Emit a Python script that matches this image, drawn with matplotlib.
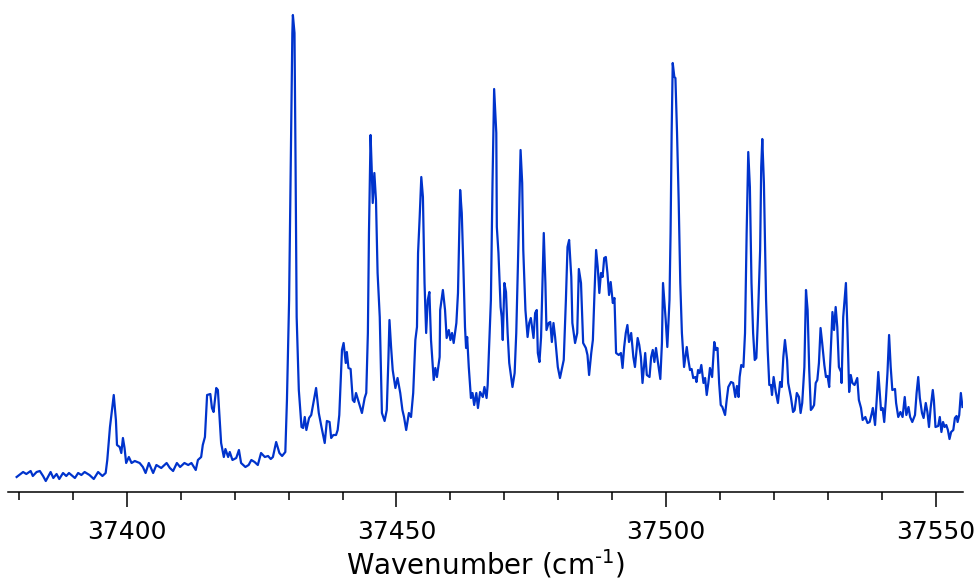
import numpy as np
import matplotlib
matplotlib.use('Agg')
import matplotlib.pyplot as plt
from matplotlib.ticker import MultipleLocator

# wavenumber (cm^-1) and signal (arb. units)
wavenumber = [
    37379.6, 37380.8, 37381.4, 37382.2, 37382.6, 37383.3, 37383.9, 37384.5, 37385.0, 37385.9,
    37386.4, 37387.0, 37387.5, 37388.2, 37388.8, 37389.3, 37390.4, 37391.0, 37391.6, 37392.2,
    37393.1, 37393.9, 37394.7, 37395.5, 37396.1, 37396.4, 37396.9, 37397.2, 37397.6, 37398.0,
    37398.2, 37398.7, 37399.0, 37399.3, 37399.6, 37399.9, 37400.4, 37400.9, 37401.5, 37402.4,
    37403.0, 37403.5, 37404.1, 37404.9, 37405.5, 37406.4, 37407.4, 37408.0, 37408.6, 37409.3,
    37409.9, 37410.7, 37411.4, 37412.0, 37412.8, 37413.2, 37413.8, 37414.1, 37414.5, 37414.9,
    37415.5, 37415.8, 37416.1, 37416.6, 37416.9, 37417.2, 37417.5, 37418.0, 37418.3, 37418.8,
    37419.1, 37419.6, 37420.3, 37420.8, 37421.2, 37422.0, 37422.6, 37423.1, 37423.7, 37424.3,
    37424.9, 37425.6, 37426.2, 37426.7, 37427.1, 37427.7, 37428.3, 37428.8, 37429.4, 37429.7,
    37430.1, 37430.4, 37430.7, 37430.8, 37431.1, 37431.3, 37431.5, 37431.9, 37432.4, 37432.7,
    37433.0, 37433.3, 37433.8, 37434.2, 37434.6, 37435.1, 37435.6, 37436.1, 37436.7, 37437.1,
    37437.6, 37437.9, 37438.3, 37438.8, 37439.1, 37439.4, 37439.9, 37440.2, 37440.6, 37440.8,
    37441.1, 37441.5, 37441.9, 37442.2, 37442.5, 37443.0, 37443.6, 37444.1, 37444.4, 37444.7,
    37444.9, 37445.2, 37445.4, 37445.6, 37445.9, 37446.2, 37446.5, 37446.9, 37447.3, 37447.8,
    37448.2, 37448.5, 37448.7, 37449.0, 37449.3, 37449.8, 37450.2, 37450.7, 37451.1, 37451.4,
    37451.8, 37452.3, 37452.7, 37453.1, 37453.5, 37453.8, 37454.0, 37454.3, 37454.6, 37454.9,
    37455.2, 37455.5, 37455.8, 37456.1, 37456.4, 37456.9, 37457.2, 37457.5, 37458.0, 37458.1,
    37458.6, 37459.0, 37459.3, 37459.7, 37460.0, 37460.3, 37460.6, 37461.1, 37461.4, 37461.8,
    37462.1, 37462.4, 37462.7, 37462.9, 37463.1, 37463.4, 37463.8, 37464.1, 37464.4, 37464.8,
    37465.1, 37465.5, 37466.0, 37466.3, 37466.7, 37466.9, 37467.5, 37467.8, 37468.1, 37468.5,
    37468.6, 37468.9, 37469.3, 37469.5, 37469.7, 37470.0, 37470.3, 37470.6, 37470.9, 37471.2,
    37471.5, 37471.9, 37472.2, 37472.5, 37473.0, 37473.3, 37473.5, 37473.9, 37474.3, 37474.6,
    37474.9, 37475.2, 37475.4, 37475.7, 37476.0, 37476.2, 37476.5, 37476.8, 37477.0, 37477.3,
    37477.6, 37477.8, 37478.2, 37478.5, 37478.8, 37479.1, 37479.4, 37479.9, 37480.3, 37480.7,
    37481.0, 37481.4, 37481.7, 37482.0, 37482.4, 37482.6, 37483.1, 37483.5, 37483.8, 37484.2,
    37484.6, 37485.1, 37485.4, 37485.7, 37486.1, 37486.4, 37486.7, 37487.0, 37487.3, 37487.6,
    37487.9, 37488.2, 37488.5, 37488.8, 37489.1, 37489.4, 37489.7, 37490.1, 37490.4, 37490.7,
    37491.2, 37491.6, 37491.9, 37492.2, 37492.5, 37492.8, 37493.1, 37493.5, 37493.9, 37494.2,
    37494.7, 37495.0, 37495.3, 37495.6, 37496.1, 37496.4, 37496.9, 37497.2, 37497.5, 37497.8,
    37498.1, 37498.4, 37498.9, 37499.2, 37499.4, 37499.8, 37499.9, 37500.2, 37500.6, 37500.8,
    37501.0, 37501.2, 37501.5, 37501.7, 37502.0, 37502.3, 37502.6, 37502.9, 37503.3, 37503.8,
    37504.1, 37504.4, 37504.7, 37505.0, 37505.4, 37505.6, 37505.9, 37506.2, 37506.5, 37506.9,
    37507.2, 37507.5, 37507.8, 37508.1, 37508.5, 37508.9, 37509.2, 37509.5, 37509.8, 37510.1,
    37510.4, 37510.9, 37511.2, 37511.5, 37512.0, 37512.4, 37512.8, 37513.1, 37513.4, 37513.6,
    37513.9, 37514.3, 37514.6, 37514.9, 37515.2, 37515.5, 37515.8, 37516.1, 37516.4, 37516.7,
    37517.0, 37517.4, 37517.6, 37517.8, 37518.1, 37518.5, 37518.8, 37519.1, 37519.4, 37519.6,
    37519.9, 37520.3, 37520.7, 37521.1, 37521.4, 37521.7, 37522.0, 37522.4, 37522.6, 37523.1,
    37523.5, 37523.8, 37524.2, 37524.6, 37524.9, 37525.2, 37525.6, 37525.9, 37526.2, 37526.5,
    37526.8, 37527.1, 37527.4, 37527.7, 37528.0, 37528.3, 37528.6, 37528.9, 37529.3, 37529.6,
    37529.9, 37530.2, 37530.5, 37530.8, 37531.1, 37531.4, 37531.7, 37532.0, 37532.4, 37532.5,
    37532.8, 37533.3, 37533.6, 37533.9, 37534.2, 37534.5, 37534.9, 37535.4, 37535.7, 37536.1,
    37536.4, 37536.9, 37537.3, 37537.7, 37538.1, 37538.3, 37538.7, 37539.0, 37539.3, 37539.8,
    37540.1, 37540.4, 37540.7, 37541.0, 37541.3, 37541.6, 37541.9, 37542.4, 37542.6, 37543.0,
    37543.4, 37543.8, 37544.2, 37544.5, 37544.9, 37545.2, 37545.6, 37546.1, 37546.4, 37546.7,
    37547.0, 37547.4, 37547.7, 37548.1, 37548.4, 37548.7, 37549.0, 37549.4, 37549.6, 37549.9,
    37550.4, 37550.7, 37551.0, 37551.3, 37551.6, 37551.9, 37552.2, 37552.5, 37552.8, 37553.2,
    37553.5, 37553.8, 37554.0, 37554.3, 37554.6, 37554.9,
]
signal = [
    3, 8, 6, 9, 4, 8, 9, 4, -1, 8,
    2, 6, 1, 7, 4, 7, 2, 7, 5, 8,
    5, 1, 8, 4, 7, 20, 53, 67, 85, 60,
    35, 33, 27, 42, 32, 17, 23, 17, 19, 17,
    13, 7, 17, 7, 15, 12, 17, 12, 9, 17,
    13, 17, 15, 17, 10, 20, 23, 35, 43, 85,
    86, 72, 68, 92, 90, 63, 37, 23, 31, 23,
    28, 20, 22, 30, 17, 13, 15, 20, 18, 15,
    27, 23, 24, 21, 23, 38, 27, 24, 28, 80,
    180, 313, 447, 465, 447, 313, 163, 90, 53, 52,
    63, 50, 62, 65, 77, 92, 67, 53, 37, 59,
    58, 42, 45, 45, 50, 65, 130, 137, 117, 128,
    112, 111, 80, 78, 87, 78, 67, 82, 87, 147,
    247, 345, 313, 277, 307, 280, 207, 163, 67, 59,
    70, 120, 160, 133, 110, 92, 102, 87, 70, 63,
    50, 67, 63, 87, 140, 153, 227, 263, 303, 283,
    197, 147, 180, 188, 140, 100, 112, 103, 123, 170,
    190, 170, 142, 150, 140, 147, 137, 157, 187, 290,
    267, 213, 153, 132, 143, 113, 82, 87, 75, 87,
    72, 88, 83, 93, 82, 95, 180, 297, 391, 347,
    253, 227, 173, 163, 140, 197, 188, 147, 117, 105,
    93, 107, 147, 213, 330, 297, 230, 170, 143, 157,
    162, 150, 142, 167, 170, 127, 118, 143, 183, 247,
    197, 150, 157, 158, 138, 157, 143, 113, 102, 112,
    120, 180, 233, 240, 203, 157, 137, 147, 211, 197,
    137, 132, 125, 105, 127, 140, 187, 230, 213, 187,
    207, 203, 222, 223, 207, 185, 198, 177, 182, 127,
    125, 127, 112, 133, 147, 155, 138, 147, 123, 113,
    142, 135, 123, 97, 127, 105, 103, 123, 130, 118,
    132, 120, 101, 137, 197, 167, 160, 133, 180, 247,
    347, 417, 403, 402, 347, 280, 197, 147, 113, 133,
    120, 110, 111, 102, 103, 98, 110, 107, 115, 97,
    102, 85, 97, 112, 103, 138, 130, 132, 97, 75,
    73, 65, 80, 93, 98, 97, 83, 94, 83, 103,
    115, 113, 147, 247, 328, 293, 197, 147, 120, 122,
    163, 230, 313, 341, 297, 180, 130, 95, 95, 85,
    103, 88, 77, 98, 93, 123, 140, 120, 97, 83,
    68, 70, 87, 83, 67, 77, 113, 190, 170, 110,
    70, 72, 75, 97, 100, 117, 152, 137, 115, 103,
    104, 93, 130, 168, 150, 173, 153, 113, 108, 97,
    163, 197, 147, 88, 105, 97, 95, 102, 80, 72,
    60, 63, 57, 58, 67, 72, 55, 80, 108, 70,
    72, 58, 80, 107, 145, 113, 90, 91, 77, 63,
    68, 63, 83, 65, 73, 63, 58, 65, 87, 103,
    82, 67, 62, 77, 68, 53, 72, 90, 80, 53,
    54, 63, 48, 58, 53, 55, 50, 41, 48, 50,
    62, 64, 58, 65, 87, 73,
]

fig = plt.figure(figsize=(9.79, 5.82), dpi=100)
ax = fig.add_axes([8/979, 90/582, 955/979, 482/582])

ax.plot(wavenumber, signal, color='#0033cc', linewidth=1.6)

ax.set_xlim(37378.0, 37555.0)
ax.set_ylim(-12, 470)

for side in ['top', 'right', 'left']:
    ax.spines[side].set_visible(False)
ax.spines['bottom'].set_linewidth(1.1)
ax.set_yticks([])

ax.xaxis.set_major_locator(MultipleLocator(50))
ax.xaxis.set_minor_locator(MultipleLocator(10))
ax.tick_params(axis='x', which='major', direction='out', length=11, width=1.1, pad=9, labelsize=18)
ax.tick_params(axis='x', which='minor', direction='out', length=6, width=1.1)

ax.set_xlabel(r'Wavenumber (cm$^{\text{-1}}$)', fontsize=20, labelpad=3)

fig.savefig('out.png', dpi=100)
